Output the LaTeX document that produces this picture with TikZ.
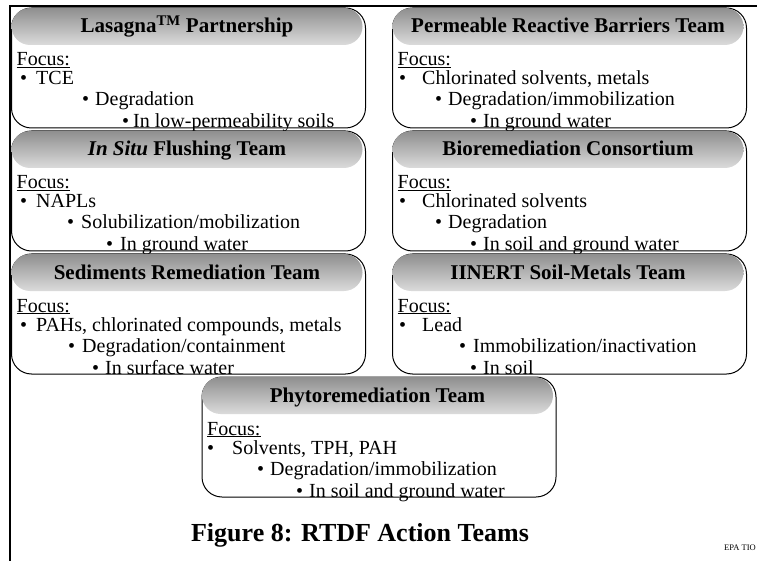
\documentclass[tikz,border=0pt]{standalone}
\usepackage{fontspec}
\setmainfont{Liberation Serif}
\begin{document}
\begin{tikzpicture}[x=1pt,y=-1pt,
  boxline/.style={draw=black, line width=1pt, rounded corners=20pt},
  pill/.style={top color=black!44, bottom color=black!14, rounded corners=18.5pt},
  title/.style={font=\fontsize{21}{24}\selectfont\bfseries, anchor=base, inner sep=0pt},
  body/.style={font=\fontsize{20}{24}\selectfont, anchor=base west, inner sep=0pt},
  caption/.style={font=\fontsize{26}{30}\selectfont\bfseries, anchor=base, inner sep=0pt},
  tag/.style={font=\fontsize{8.5}{10}\selectfont, anchor=base east, inner sep=0pt},
  frameline/.style={line width=2pt}]
\useasboundingbox (0,0) rectangle (757,561);

% team box: name, left x, top y, title
\newcommand\teambox[4]{%
  \draw[boxline] (#2,#3) rectangle ({#2+354},{#3+120});
  \shade[pill] (#2,#3) rectangle ({#2+351},{#3+37});
  \node[title] (#1) at ({#2+175.5},{#3+25}) {#4};
  \node[body] (#1-focus) at ({#2+5},{#3+58}) {\underline{Focus:}};
}
% bulleted line: name, bullet x, text x, baseline y, text
\newcommand\teamline[5]{%
  \node[body] (#1-b) at (#2,#4) {\textbullet};
  \node[body] (#1) at (#3,#4) {#5};
}

% page frame
\coordinate (frameTR) at (757,6);
\coordinate (frameTL) at (10,6);
\coordinate (frameBL) at (10,561);
\draw[frameline] (frameTR) -- (frameTL) -- (frameBL);

% row 1
\teambox{lasagna}{11.5}{8}{Lasagna\textsuperscript{TM} Partnership}
\teamline{las1}{20}{36}{85}{TCE}
\teamline{las2}{82}{95}{106}{Degradation}
\teamline{las3}{122}{133}{128}{In low-permeability soils}

\teambox{prb}{392.5}{8}{Permeable Reactive Barriers Team}
\teamline{prb1}{399}{422}{85}{Chlorinated solvents, metals}
\teamline{prb2}{435}{448}{106}{Degradation/immobilization}
\teamline{prb3}{470}{483}{128}{In ground water}

% row 2
\teambox{flush}{11.5}{131}{\textit{In Situ} Flushing Team}
\teamline{fl1}{20}{36}{208}{NAPLs}
\teamline{fl2}{67}{81}{229}{Solubilization/mobilization}
\teamline{fl3}{106}{120}{251}{In ground water}

\teambox{bio}{392.5}{131}{Bioremediation Consortium}
\teamline{bio1}{399}{422}{208}{Chlorinated solvents}
\teamline{bio2}{435}{448}{229}{Degradation}
\teamline{bio3}{470}{483}{251}{In soil and ground water}

% row 3
\teambox{sed}{11.5}{254}{Sediments Remediation Team}
\teamline{sed1}{20}{36}{331}{PAHs, chlorinated compounds, metals}
\teamline{sed2}{68}{82}{352}{Degradation/containment}
\teamline{sed3}{92}{105}{374}{In surface water}

\teambox{iinert}{392.5}{254}{IINERT Soil-Metals Team}
\teamline{iin1}{399}{422}{331}{Lead}
\teamline{iin2}{459}{473}{352}{Immobilization/inactivation}
\teamline{iin3}{470}{483}{374}{In soil}

% row 4
\teambox{phyto}{202}{377}{Phytoremediation Team}
\teamline{ph1}{207}{232}{454}{Solvents, TPH, PAH}
\teamline{ph2}{257}{270}{475}{Degradation/immobilization}
\teamline{ph3}{296}{309}{497}{In soil and ground water}

\node[caption] (cap) at (360,541) {Figure 8: RTDF Action Teams};
\node[tag] (epa) at (756,550) {EPA TIO};
\end{tikzpicture}
\end{document}
